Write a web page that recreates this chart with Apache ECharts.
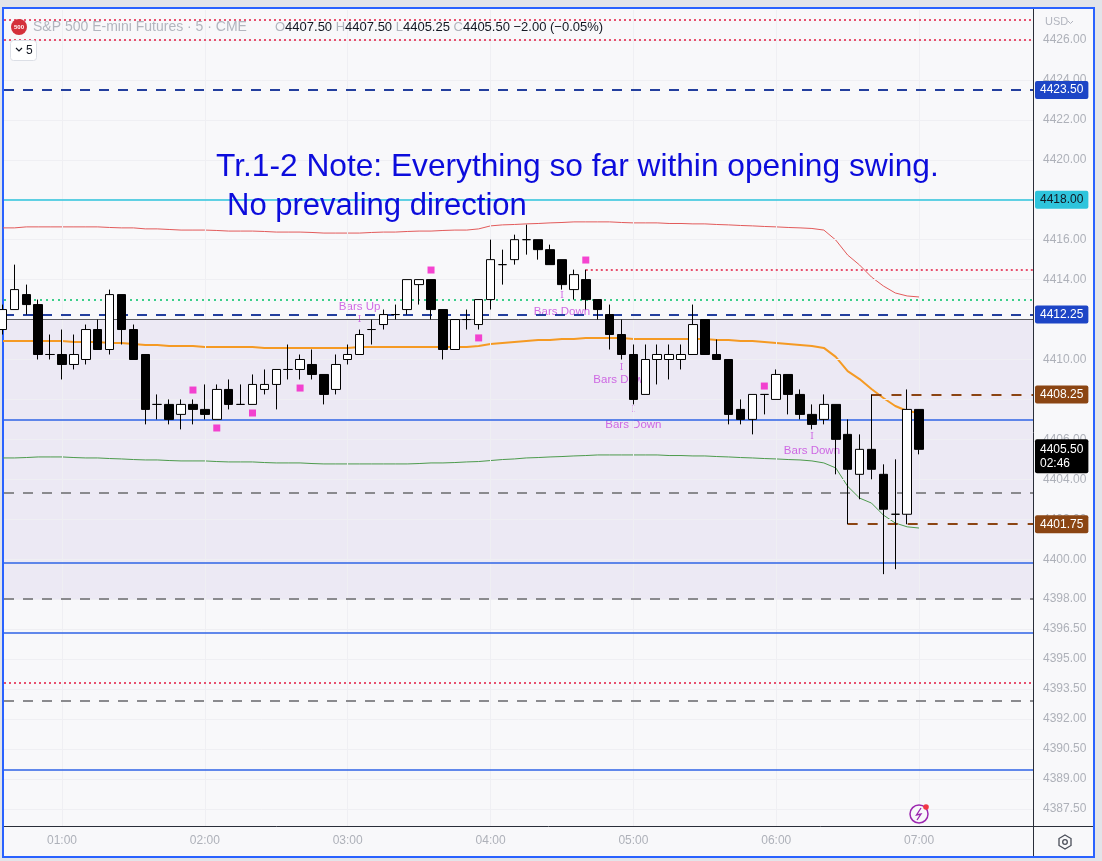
<!DOCTYPE html>
<html lang="en">
<head>
<meta charset="UTF-8">
<title>S&amp;P 500 E-mini Futures 5m</title>
<script src="https://cdn.jsdelivr.net/npm/echarts@6.0.0/dist/echarts.min.js"></script>
<style>
  html, body { margin: 0; padding: 0; background: #e2e4e9; }
  #chart { width: 1102px; height: 861px; }
</style>
</head>
<body>
<div id="chart"></div>
<script>
// 5 min bars, index 0 = 00:35 ... index 77 = 07:00
const opens = [4411.5, 4412.5, 4413.25, 4412.75, 4410.25, 4410.25, 4409.75, 4410, 4411.5, 4410.5,
  4413.25, 4411.5, 4410.25, 4407.75, 4407.75, 4407.25, 4407.75, 4407.5, 4407, 4408.5,
  4407.75, 4407.75, 4408.5, 4408.75, 4409.5, 4409.5, 4409.75, 4409.25, 4408.5, 4410,
  4410.25, 4411.5, 4411.75, 4412.25, 4412.5, 4413.75, 4414, 4412.5, 4410.5, 4412,
  4411.75, 4413, 4414.75, 4415, 4416, 4416, 4415.5, 4415, 4413.5, 4414,
  4413, 4412.25, 4411.25, 4410.25, 4408.25, 4410, 4410, 4410, 4410.25, 4412,
  4410.25, 4410, 4407.5, 4407, 4408.25, 4408, 4409.25, 4408.25, 4407.25, 4407,
  4407.75, 4406.25, 4404.25, 4405.5, 4404.25, 4402.25, 4402.25, 4407.5]
const closes = [4412.5, 4413.5, 4412.75, 4410.25, 4410.25, 4409.75, 4410.25, 4411.5, 4410.5, 4413.25,
  4411.5, 4410, 4407.5, 4407.75, 4407, 4407.75, 4407.5, 4407.25, 4408.5, 4407.75,
  4407.75, 4408.75, 4408.75, 4409.5, 4409.5, 4410, 4409.25, 4408.25, 4409.75, 4410.25,
  4411.25, 4411.5, 4412.25, 4412.25, 4414, 4414, 4412.5, 4410.5, 4412, 4412,
  4413, 4415, 4414.75, 4416, 4416, 4415.5, 4414.75, 4413.75, 4414.25, 4413,
  4412.5, 4411.25, 4410.25, 4408, 4410, 4410.25, 4410.25, 4410.25, 4411.75, 4410.25,
  4410, 4407.25, 4407, 4408.25, 4408.25, 4409.25, 4408.25, 4407.25, 4406.75, 4407.75,
  4406, 4404.5, 4405.5, 4404.5, 4402.5, 4402.25, 4407.5, 4405.5]
const highs = [4412.75, 4414.75, 4413.75, 4413, 4411.25, 4411.5, 4411.25, 4411.75, 4412, 4413.5,
  4413.25, 4411.75, 4410.25, 4408.25, 4408, 4408, 4408, 4408.75, 4408.75, 4409,
  4408.75, 4409.25, 4409.5, 4409.5, 4410.75, 4410.25, 4410.5, 4409.25, 4410.25, 4410.75,
  4411.5, 4412, 4412.5, 4412.75, 4414, 4414, 4414, 4412.5, 4412, 4412.5,
  4413, 4416, 4415.5, 4416.25, 4416.75, 4416, 4415.75, 4415, 4414.5, 4414.5,
  4413, 4412.75, 4412, 4410.75, 4410.75, 4410.75, 4410.75, 4410.75, 4412.75, 4412,
  4411, 4410, 4408, 4408.25, 4408.25, 4409.5, 4409.25, 4408.5, 4407.75, 4408.25,
  4407.75, 4407, 4406.25, 4408.25, 4404.75, 4405, 4408.5, 4407.5]
const lows = [4411.25, 4412.5, 4412.25, 4410, 4410, 4409, 4409.5, 4409.75, 4410.5, 4410.25,
  4410.75, 4410, 4406.75, 4407, 4406.75, 4406.5, 4406.75, 4407, 4407, 4407.5,
  4407.75, 4407.75, 4408.25, 4407.5, 4409, 4409, 4409, 4407.75, 4408.25, 4409.75,
  4410.25, 4410.75, 4411.5, 4412, 4412.25, 4412.75, 4412, 4410, 4410.5, 4411.5,
  4411.5, 4412.5, 4413.75, 4414.75, 4415.25, 4415, 4414.75, 4413.5, 4413, 4412.5,
  4412, 4410.5, 4410, 4407.75, 4408.25, 4408.75, 4409, 4409.5, 4410.25, 4410.25,
  4410, 4406.75, 4406.75, 4406.25, 4407.25, 4408, 4407.25, 4407, 4406.5, 4406.75,
  4404.25, 4401.75, 4403, 4404, 4399.25, 4399.5, 4401.75, 4405.25]

// indicator lines (upper band, vwap, lower band)
const upperBand = [4416.59, 4416.59, 4416.64, 4416.64, 4416.64, 4416.64, 4416.64, 4416.64, 4416.64, 4416.61,
  4416.59, 4416.59, 4416.54, 4416.54, 4416.51, 4416.48, 4416.48, 4416.48, 4416.46, 4416.43,
  4416.43, 4416.43, 4416.41, 4416.38, 4416.38, 4416.38, 4416.36, 4416.33, 4416.33, 4416.33,
  4416.33, 4416.36, 4416.38, 4416.38, 4416.41, 4416.43, 4416.43, 4416.46, 4416.48, 4416.48,
  4416.54, 4416.69, 4416.74, 4416.76, 4416.79, 4416.81, 4416.84, 4416.86, 4416.89, 4416.89,
  4416.89, 4416.89, 4416.86, 4416.84, 4416.84, 4416.84, 4416.81, 4416.81, 4416.79, 4416.79,
  4416.76, 4416.74, 4416.71, 4416.69, 4416.66, 4416.64, 4416.61, 4416.59, 4416.56, 4416.48,
  4415.98, 4415.23, 4414.73, 4414.13, 4413.68, 4413.33, 4413.18, 4413.13]
const vwap = [4410.93, 4410.93, 4410.93, 4410.93, 4410.93, 4410.93, 4410.88, 4410.88, 4410.88, 4410.83,
  4410.83, 4410.78, 4410.73, 4410.73, 4410.68, 4410.68, 4410.68, 4410.63, 4410.63, 4410.63,
  4410.63, 4410.63, 4410.58, 4410.58, 4410.58, 4410.58, 4410.58, 4410.58, 4410.58, 4410.58,
  4410.63, 4410.63, 4410.63, 4410.63, 4410.63, 4410.63, 4410.63, 4410.63, 4410.63, 4410.63,
  4410.68, 4410.78, 4410.83, 4410.88, 4410.93, 4410.98, 4410.98, 4411.03, 4411.03, 4411.08,
  4411.08, 4411.08, 4411.08, 4411.03, 4411.03, 4411.03, 4411.03, 4411.03, 4411.03, 4411.03,
  4410.98, 4410.98, 4410.93, 4410.93, 4410.88, 4410.83, 4410.78, 4410.73, 4410.68, 4410.58,
  4410.13, 4409.42, 4409.02, 4408.52, 4408.07, 4407.67, 4407.42, 4407.32]
const lowerBand = [4405.07, 4405.07, 4405.09, 4405.12, 4405.12, 4405.12, 4405.09, 4405.07, 4405.07, 4405.04,
  4405.02, 4404.99, 4404.97, 4404.97, 4404.94, 4404.92, 4404.92, 4404.92, 4404.89, 4404.87,
  4404.87, 4404.87, 4404.84, 4404.82, 4404.82, 4404.82, 4404.79, 4404.77, 4404.77, 4404.77,
  4404.77, 4404.77, 4404.77, 4404.77, 4404.77, 4404.79, 4404.82, 4404.82, 4404.84, 4404.87,
  4404.89, 4404.94, 4404.99, 4405.02, 4405.07, 4405.09, 4405.12, 4405.14, 4405.17, 4405.19,
  4405.22, 4405.22, 4405.22, 4405.22, 4405.22, 4405.22, 4405.19, 4405.19, 4405.17, 4405.17,
  4405.14, 4405.12, 4405.09, 4405.07, 4405.04, 4405.02, 4404.99, 4404.97, 4404.92, 4404.82,
  4404.57, 4403.65, 4403.06, 4402.81, 4402.21, 4401.81, 4401.62, 4401.56]

// signals
const squareIdx = [16, 18, 21, 25, 36, 40, 49, 64]
const squarePrice = [4408.47, 4406.57, 4407.32, 4408.57, 4414.48, 4411.08, 4414.98, 4408.67]
const sigIdx = [30, 47, 52, 53, 68]
const sigText = ['Bars Up', 'Bars Down', 'Bars Down', 'Bars Down', 'Bars Down']
const sigTextPrice = [4412.63, 4412.38, 4408.97, 4406.72, 4405.42]
const sigMarkPrice = [4411.98, 4413.18, 4409.57, 4407.47, 4406.12]

// drawn levels
const redDotted = [4427, 4426, 4393.8]
const blueDashed = [4423.5, 4412.25]
const blueSolid = [4407, 4399.8, 4396.3, 4389.45]
const grayDashed = [4403.35, 4398, 4392.9]
const cyanLevel = 4418
const greenDotted = 4413
const bandTop = 4412
const bandBottom = 4398
const redDotFrom = [49, 4414.5]
const rangeHigh = [73, 4408.25]
const rangeLow = [71, 4401.75]
const lastPrice = 4405.5
const countdown = '02:46'

// axes
const timeTickIdx = [5, 17, 29, 41, 53, 65, 77]
const timeTickLabels = ['01:00', '02:00', '03:00', '04:00', '05:00', '06:00', '07:00']
const priceTicks = [4426, 4424, 4422, 4420, 4418, 4416, 4414, 4412, 4410, 4408, 4406, 4404, 4402,
  4400, 4398, 4396.5, 4395, 4393.5, 4392, 4390.5, 4389, 4387.5]

const X_MIN = 0.126, X_MAX = 86.57
const FONT = 'Liberation Sans, Arial, sans-serif'
const AXIS_TXT = '#aeb1b9'
const SIG_COLOR = '#c646de'

const chart = echarts.init(document.getElementById('chart'))

const tagLabel = (text, bg, fg) => ({
  show: true, position: 'end', distance: 2,
  formatter: text,
  backgroundColor: bg, color: fg, padding: [3, 5, 3, 5],
  fontSize: 12, fontFamily: FONT, borderRadius: 2
})

const levelData = []
redDotted.forEach(v => levelData.push({ yAxis: v, lineStyle: { color: '#e8506e', width: 2, type: [2, 3] } }))
grayDashed.forEach(v => levelData.push({ yAxis: v, lineStyle: { color: '#8a8a8e', width: 2, type: [10, 9] } }))
levelData.push({ yAxis: bandTop, lineStyle: { color: '#5b5b60', width: 1, type: 'solid' } })
levelData.push({ yAxis: greenDotted, lineStyle: { color: '#3ccf8a', width: 2, type: [2, 4] } })
blueSolid.forEach(v => levelData.push({ yAxis: v, lineStyle: { color: '#2f63e6', width: 1.5, type: 'solid' } }))
blueDashed.forEach(v => levelData.push({ yAxis: v, lineStyle: { color: '#233f9e', width: 2, type: [10, 9] } }))
levelData.push({ yAxis: cyanLevel, lineStyle: { color: '#2ec4dc', width: 1.5, type: 'solid' } })
levelData.push([{ coord: redDotFrom, lineStyle: { color: '#e8506e', width: 2, type: [2, 3] } }, { coord: [X_MAX, redDotFrom[1]] }])
levelData.push([{ coord: rangeHigh, lineStyle: { color: '#8b4513', width: 2, type: [10, 10] } }, { coord: [X_MAX, rangeHigh[1]] }])
levelData.push([{ coord: rangeLow, lineStyle: { color: '#8b4513', width: 2, type: [10, 10] } }, { coord: [X_MAX, rangeLow[1]] }])

// price tags on the axis
const tagData = []
blueDashed.forEach(v => tagData.push({ yAxis: v, label: tagLabel(v.toFixed(2), '#1d45c6', '#ffffff') }))
tagData.push({ yAxis: cyanLevel, label: tagLabel(cyanLevel.toFixed(2), '#2ec4dc', '#131722') })
tagData.push({ yAxis: rangeHigh[1], label: tagLabel(rangeHigh[1].toFixed(2), '#8b4513', '#ffffff') })
tagData.push({ yAxis: rangeLow[1], label: tagLabel(rangeLow[1].toFixed(2), '#8b4513', '#ffffff') })
tagData.push({
  yAxis: lastPrice,
  label: Object.assign(tagLabel(lastPrice.toFixed(2) + '\n' + countdown, '#000000', '#ffffff'), { lineHeight: 14, offset: [0, 7] })
})

const idx = opens.map((_, i) => i)

const option = {
  backgroundColor: '#e2e4e9',
  animation: false,
  textStyle: { fontFamily: FONT },
  grid: { left: 4, top: 10, right: 69, bottom: 35, show: true, backgroundColor: '#f8f8fa', borderWidth: 0 },
  xAxis: {
    type: 'value', min: X_MIN, max: X_MAX,
    axisLine: { show: false }, axisTick: { show: false }, splitLine: { show: false },
    axisLabel: {
      customValues: timeTickIdx,
      formatter: v => timeTickLabels[timeTickIdx.indexOf(v)] || '',
      color: AXIS_TXT, fontSize: 12, margin: 9, fontFamily: FONT
    }
  },
  yAxis: {
    type: 'value', position: 'right', min: 4386.64, max: 4427.5, scale: true,
    axisLine: { show: false }, axisTick: { show: false }, splitLine: { show: false },
    axisLabel: {
      customValues: priceTicks,
      formatter: v => v.toFixed(2),
      color: AXIS_TXT, fontSize: 12, margin: 10, fontFamily: FONT
    }
  },
  series: [
    {
      // shaded range
      type: 'line', data: [], z: 1, silent: true,
      markArea: { silent: true, itemStyle: { color: '#ece9f4' }, data: [[{ yAxis: bandTop }, { yAxis: bandBottom }]] }
    },
    {
      // grid
      type: 'line', data: [], z: 1, silent: true,
      markLine: {
        silent: true, symbol: 'none', label: { show: false }, animation: false,
        lineStyle: { color: '#efeff3', width: 1, type: 'solid' },
        data: priceTicks.map(v => ({ yAxis: v })).concat(timeTickIdx.map(i => ({ xAxis: i })))
      }
    },
    {
      type: 'line', data: [], z: 2, silent: true,
      markLine: { silent: true, symbol: 'none', label: { show: false }, animation: false, data: levelData }
    },
    { type: 'line', data: idx.map(i => [i, upperBand[i]]), showSymbol: false, z: 3, lineStyle: { color: '#e25a5a', width: 1 } },
    { type: 'line', data: idx.map(i => [i, vwap[i]]), showSymbol: false, z: 3, lineStyle: { color: '#f59a23', width: 2 } },
    { type: 'line', data: idx.map(i => [i, lowerBand[i]]), showSymbol: false, z: 3, lineStyle: { color: '#4c9a4c', width: 1 } },
    {
      type: 'scatter', z: 3, symbol: 'rect', symbolSize: 7,
      itemStyle: { color: '#f417c6' },
      data: squareIdx.map((i, k) => [i, squarePrice[k]])
    },
    {
      type: 'scatter', z: 3, symbolSize: 1, itemStyle: { color: 'transparent' },
      data: sigIdx.map((i, k) => [i, sigTextPrice[k]]),
      label: { show: true, position: 'inside', formatter: p => sigText[p.dataIndex], color: SIG_COLOR, fontSize: 11.5, fontFamily: FONT }
    },
    {
      type: 'scatter', z: 3, symbolSize: 1, itemStyle: { color: 'transparent' },
      data: sigIdx.map((i, k) => [i, sigMarkPrice[k]]),
      label: { show: true, position: 'inside', formatter: 'I', color: SIG_COLOR, fontSize: 9, fontFamily: 'DejaVu Serif' }
    },
    {
      type: 'candlestick', z: 5, clip: true, barWidth: 9,
      data: idx.map(i => [i, opens[i], closes[i], lows[i], highs[i]]),
      itemStyle: { color: '#ffffff', color0: '#000000', borderColor: '#000000', borderColor0: '#000000', borderWidth: 1 }
    },
    {
      // axis tags, own layer so they sit above the axis labels
      type: 'line', data: [], zlevel: 1, z: 6, silent: true,
      markLine: {
        silent: true, symbol: 'none', animation: false,
        lineStyle: { color: 'rgba(0,0,0,0)', width: 0 },
        data: tagData
      }
    }
  ],
  graphic: [
    { type: 'rect', z: -10, shape: { x: 3, y: 8, width: 1091, height: 849 }, style: { fill: '#f8f8fa', stroke: '#2962ff', lineWidth: 2 } },
    { type: 'line', z: 50, shape: { x1: 1033.5, y1: 9, x2: 1033.5, y2: 856 }, style: { stroke: '#2a2e39', lineWidth: 1 } },
    { type: 'line', z: 50, shape: { x1: 4, y1: 826.5, x2: 1093, y2: 826.5 }, style: { stroke: '#2a2e39', lineWidth: 1 } },
    // header
    { type: 'circle', z: 50, shape: { cx: 19, cy: 27, r: 8 }, style: { fill: '#d4303a' } },
    { type: 'text', z: 51, style: { x: 19, y: 27, text: '500', fill: '#ffffff', fontSize: 6, fontWeight: 'bold', align: 'center', verticalAlign: 'middle', fontFamily: FONT } },
    { type: 'text', z: 50, style: { x: 33, y: 27, text: 'S&P 500 E-mini Futures · 5 · CME', fill: '#b2b5be', fontSize: 14, verticalAlign: 'middle', fontFamily: FONT } },
    {
      type: 'text', z: 50,
      style: {
        x: 275, y: 27, verticalAlign: 'middle', fontSize: 13, fontFamily: FONT,
        text: '{k|O}{v|4407.50} {k|H}{v|4407.50} {k|L}{v|4405.25} {k|C}{v|4405.50} {v|−2.00 (−0.05%)}',
        rich: { k: { fill: '#b2b5be', fontSize: 13, fontFamily: FONT }, v: { fill: '#131722', fontSize: 13, fontFamily: FONT } }
      }
    },
    { type: 'rect', z: 50, shape: { x: 10.5, y: 40.5, width: 26, height: 20, r: 3 }, style: { fill: '#ffffff', stroke: '#dcdfe6', lineWidth: 1 } },
    { type: 'polyline', z: 51, shape: { points: [[16, 48], [19, 51], [22, 48]] }, style: { stroke: '#131722', lineWidth: 1.2, fill: null } },
    { type: 'text', z: 51, style: { x: 26, y: 50.5, text: '5', fill: '#131722', fontSize: 12, verticalAlign: 'middle', fontFamily: FONT } },
    { type: 'text', z: 50, style: { x: 1045, y: 22, text: 'USD', fill: '#b2b5be', fontSize: 11, verticalAlign: 'middle', fontFamily: FONT } },
    { type: 'polyline', z: 50, shape: { points: [[1068, 21], [1070.5, 23.5], [1073, 21]] }, style: { stroke: '#b2b5be', lineWidth: 1, fill: null } },
    // note
    { type: 'text', z: 40, style: { x: 216, y: 167, text: 'Tr.1-2 Note: Everything so far within opening swing.', fill: '#0c0cdc', fontSize: 31.7, verticalAlign: 'middle', fontFamily: FONT } },
    { type: 'text', z: 40, style: { x: 227, y: 206, text: 'No prevaling direction', fill: '#0c0cdc', fontSize: 31, verticalAlign: 'middle', fontFamily: FONT } },
    // bottom icons
    { type: 'circle', z: 50, shape: { cx: 919, cy: 814, r: 9 }, style: { fill: '#f8f8fa', stroke: '#9c27b0', lineWidth: 1.5 } },
    { type: 'polyline', z: 51, shape: { points: [[921, 808], [916.5, 815], [921, 814], [917, 820]] }, style: { stroke: '#9c27b0', lineWidth: 1.3, fill: null } },
    { type: 'circle', z: 52, shape: { cx: 926, cy: 807, r: 2.8 }, style: { fill: '#f23645' } },
    {
      type: 'polygon', z: 50,
      shape: { points: [[1065, 835], [1071, 838.5], [1071, 845.5], [1065, 849], [1059, 845.5], [1059, 838.5]] },
      style: { fill: 'none', stroke: '#4a4e59', lineWidth: 1.3 }
    },
    { type: 'circle', z: 50, shape: { cx: 1065, cy: 842, r: 2.3 }, style: { fill: 'none', stroke: '#4a4e59', lineWidth: 1.3 } }
  ]
}

chart.setOption(option)
</script>
</body>
</html>
